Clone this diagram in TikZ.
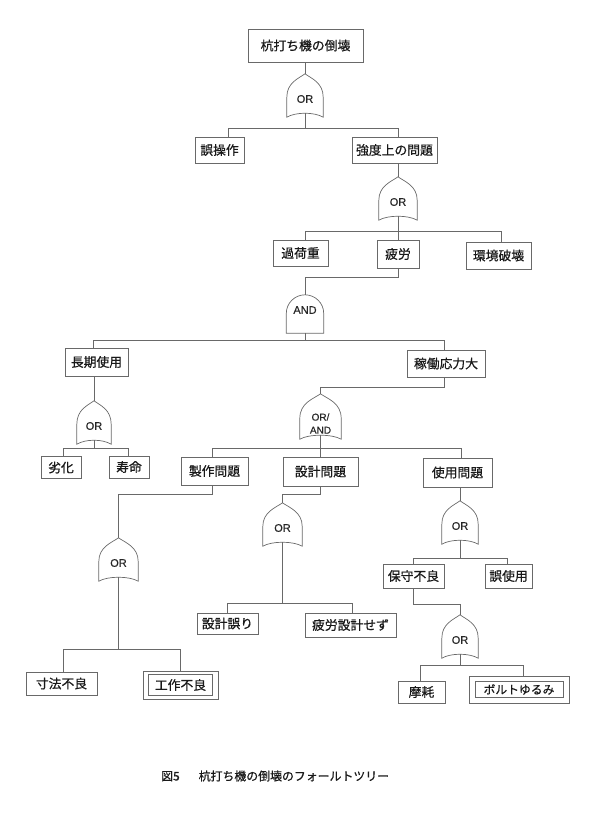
\documentclass[tikz,border=0pt]{standalone}
\usepackage{fontspec}
\newfontfamily\jp{Noto Sans CJK JP}[FakeBold=0.7]
\newfontfamily\lat{Liberation Sans}[FakeBold=0.4]
\usetikzlibrary{calc}
\definecolor{linec}{RGB}{105,105,105}
\newcommand\orshape[1]{\draw[gate] ($(#1.south west)+(0,4)$) -- ($(#1.west)+(0,4)$) .. controls ($(#1.north west)+(0,9)$) and ($(#1.north)+(-7,5)$) .. (#1.north) .. controls ($(#1.north)+(7,5)$) and ($(#1.north east)+(0,9)$) .. ($(#1.east)+(0,4)$) -- ($(#1.south east)+(0,4)$) .. controls ($(#1.south east)+(-9,-1.3)$) and ($(#1.south west)+(9,-1.3)$) .. cycle;}
\newcommand\andshape[1]{\draw[gate] (#1.south west) -- ($(#1.north west)+(0,18.5)$) .. controls +(0,-10.2) and +(-10.2,0) .. (#1.north) .. controls +(10.2,0) and +(0,-10.2) .. ($(#1.north east)+(0,18.5)$) -- (#1.south east) -- cycle;}
\newcommand\innerbox[3]{\draw[gate] ($(#1.north west)+(#2,#3)$) rectangle ($(#1.south east)+(-#2,-#3)$);}
\begin{document}
\begin{tikzpicture}[x=1pt,y=-1pt,
 box/.style={draw=linec, line width=0.7pt, inner sep=0pt, font=\jp\fontsize{12.8}{14}\selectfont, text=black!90},
 gatenode/.style={draw=none, inner sep=0pt, minimum height=39pt},
 gate/.style={draw=linec, line width=0.7pt},
 conn/.style={draw=linec, line width=0.7pt},
 gl/.style={font=\lat\fontsize{11}{12}\selectfont, text=black!85, inner sep=0pt}]
\useasboundingbox (0,0) rectangle (591,813);
% boxes
\node[box, minimum width=115pt, minimum height=33pt] (t) at (305.5,45.5) {杭打ち機の倒壊};
\node[box, minimum width=49pt, minimum height=26pt] (a1) at (219.5,150) {誤操作};
\node[box, minimum width=85pt, minimum height=26pt] (a2) at (394.5,150) {強度上の問題};
\node[box, minimum width=55pt, minimum height=26pt] (b1) at (300.5,253) {過荷重};
\node[box, minimum width=42pt, minimum height=28pt] (b2) at (398,254) {疲労};
\node[box, minimum width=65pt, minimum height=27pt] (b3) at (498.5,255.5) {環境破壊};
\node[box, minimum width=63pt, minimum height=28pt] (c1) at (96.5,362) {長期使用};
\node[box, minimum width=78pt, minimum height=27pt] (c2) at (446,363.5) {稼働応力大};
\node[box, minimum width=40pt, minimum height=22pt] (d1) at (61,467.5) {劣化};
\node[box, minimum width=40pt, minimum height=22pt] (d2) at (129,467) {寿命};
\node[box, minimum width=67pt, minimum height=28pt] (e1) at (214.5,471) {製作問題};
\node[box, minimum width=75pt, minimum height=29pt] (e2) at (320.5,471.5) {設計問題};
\node[box, minimum width=69pt, minimum height=29pt] (e3) at (457.5,472.5) {使用問題};
\node[box, minimum width=71pt, minimum height=23pt] (f1) at (61.5,683.5) {寸法不良};
\node[box, minimum width=75pt, minimum height=28pt] (f2) at (180.5,685) {工作不良};
\node[box, minimum width=61pt, minimum height=21pt] (h1) at (227.5,623.5) {設計誤り};
\node[box, minimum width=91pt, minimum height=24pt] (h2) at (350.5,625) {疲労設計せず};
\node[box, minimum width=61pt, minimum height=24pt] (k1) at (413.5,576) {保守不良};
\node[box, minimum width=47pt, minimum height=24pt] (k2) at (508.5,576) {誤使用};
\node[box, minimum width=47pt, minimum height=22pt] (m1) at (421.5,692) {摩耗};
\node[box, minimum width=100pt, minimum height=27pt, font=\jp\fontsize{11.8}{13}\selectfont] (m2) at (519,689.5) {ボルトゆるみ};
\innerbox{f2}{6}{4}
\innerbox{m2}{6.5}{6}
% gates
\node[gatenode, minimum width=36pt, label={[gl,yshift=-5.5pt]center:OR}] (g1) at (305,93.5) {};
\node[gatenode, minimum width=38pt, label={[gl,yshift=-5.5pt]center:OR}] (g2) at (398,196.5) {};
\node[gatenode, minimum width=37pt, minimum height=38pt, label={[gl,yshift=4pt]center:AND}] (and) at (305,314) {};
\node[gatenode, minimum width=34pt, label={[gl,yshift=-5.5pt]center:OR}] (g3) at (94,420.5) {};
\node[gatenode, minimum width=41pt, minimum height=41pt, label={[gl,font=\lat\fontsize{10}{13}\selectfont,align=center,yshift=-9pt]center:OR/\\AND}] (g4) at (320.5,414.5) {};
\node[gatenode, minimum width=39pt, label={[gl,yshift=-5.5pt]center:OR}] (g5) at (118.5,557.5) {};
\node[gatenode, minimum width=39pt, label={[gl,yshift=-5.5pt]center:OR}] (g6) at (282.5,522.5) {};
\node[gatenode, minimum width=36pt, label={[gl,yshift=-5.5pt]center:OR}] (g7) at (460,520.5) {};
\node[gatenode, minimum width=36pt, label={[gl,yshift=-5.5pt]center:OR}] (g8) at (460,634.5) {};
\orshape{g1}\orshape{g2}\andshape{and}\orshape{g3}\orshape{g4}
\orshape{g5}\orshape{g6}\orshape{g7}\orshape{g8}
% bus levels
\coordinate (y1) at (0,128);
\coordinate (y2) at (0,231);
\coordinate (y3) at (0,340);
\coordinate (y4) at (0,448);
\coordinate (y5) at (0,649);
\coordinate (y6) at (0,603);
\coordinate (y7) at (0,558);
\coordinate (y8) at (0,665);
% connectors
\draw[conn] (g1.north |- t.south) -- (g1.north);
\draw[conn] (g1.south) -- (g1.south |- y1) coordinate (j1);
\draw[conn] (j1) -| ($(a1.north)+(8.5,0)$);
\draw[conn] (j1) -| ($(a2.north)+(3.5,0)$);
\draw[conn] (g2.north |- a2.south) -- (g2.north);
\draw[conn] (g2.south) -- (g2.south |- y2) coordinate (j2);
\draw[conn] (j2) -| ($(b1.north)+(4.5,0)$);
\draw[conn] (j2) -| (b2.north);
\draw[conn] (j2) -| ($(b3.north)+(2.5,0)$);
\draw[conn] (b2.south) -- ++(0,9) -| (and.north);
\draw[conn] (and.south) -- (and.south |- y3) coordinate (j3);
\draw[conn] (j3) -| ($(c1.north)+(-3.5,0)$);
\draw[conn] (j3) -| ($(c2.north)+(-2,0)$);
\draw[conn] (g3.north |- c1.south) -- (g3.north);
\draw[conn] (g3.south) -- (g3.south |- y4) coordinate (j4);
\draw[conn] (j4) -| ($(d1.north)+(2,0)$);
\draw[conn] (j4) -| ($(d2.north)+(-1,0)$);
\draw[conn] ($(c2.south)+(-2,0)$) -- ++(0,10) -| (g4.north);
\draw[conn] (g4.south) -- (g4.south |- y4) coordinate (j5);
\draw[conn] (j5) -| ($(e1.north)+(-2.5,0)$);
\draw[conn] (j5) -| (e2.north);
\draw[conn] (j5) -| ($(e3.north)+(3.5,0)$);
\draw[conn] ($(e1.south)+(-2.5,0)$) -- ++(0,9) -| (g5.north);
\draw[conn] (g5.south) -- (g5.south |- y5) coordinate (j6);
\draw[conn] (j6) -| ($(f1.north)+(1.5,0)$);
\draw[conn] (j6) -| (f2.north);
\draw[conn] (e2.south) -- ++(0,8) -| (g6.north);
\draw[conn] (g6.south) -- (g6.south |- y6) coordinate (j7);
\draw[conn] (j7) -| (h1.north);
\draw[conn] (j7) -| ($(h2.north)+(1.5,0)$);
\draw[conn] (g7.north |- e3.south) -- (g7.north);
\draw[conn] (g7.south) -- (g7.south |- y7) coordinate (j8);
\draw[conn] (j8) -| (k1.north);
\draw[conn] (j8) -| ($(k2.north)+(-1.5,0)$);
\draw[conn] (k1.south) -- ++(0,16) -| (g8.north);
\draw[conn] (g8.south) -- (g8.south |- y8) coordinate (j9);
\draw[conn] (j9) -| ($(m1.north)+(-1.5,0)$);
\draw[conn] (j9) -| ($(m2.north)+(4,0)$);
% caption
\node[anchor=west, inner sep=0pt, font=\jp\fontsize{11.9}{12}\selectfont, text=black!90] (cap) at (161,776) {図5\hspace{19pt}杭打ち機の倒壊のフォールトツリー};
\end{tikzpicture}
\end{document}
